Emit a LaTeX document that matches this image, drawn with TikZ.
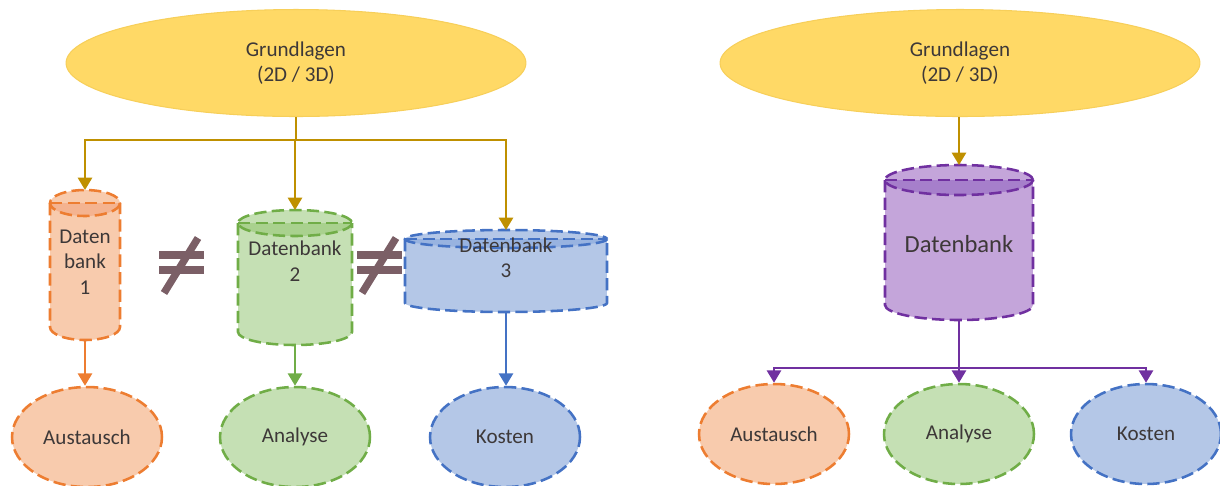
\documentclass[tikz,border=0pt]{standalone}
\usepackage{fontspec}
\setmainfont{Carlito}
\usetikzlibrary{arrows.meta,shapes.geometric}
\definecolor{txt}{HTML}{3D3838}
\definecolor{yfill}{HTML}{FFD966}
\definecolor{ydraw}{HTML}{F7CF5A}
\definecolor{gold}{HTML}{BF9000}
\definecolor{odraw}{HTML}{ED7D31}
\definecolor{ofill}{HTML}{F8CBAD}
\definecolor{ocap}{HTML}{F4B390}
\definecolor{gdraw}{HTML}{70AD47}
\definecolor{gfill}{HTML}{C5E0B4}
\definecolor{gcap}{HTML}{A9D18E}
\definecolor{bdraw}{HTML}{4472C4}
\definecolor{bfill}{HTML}{B4C7E7}
\definecolor{bcap}{HTML}{98B3E0}
\definecolor{pdraw}{HTML}{7030A0}
\definecolor{pfill}{HTML}{C4A5DA}
\definecolor{pcap}{HTML}{A67FCB}
\definecolor{neqc}{HTML}{7B5F66}
\newcommand{\dbcyl}[9]{%
  \fill[#7] (#1-#4,#2+#5) rectangle (#1+#4,#3-#5);
  \fill[#7] (#1,#3-#5) ellipse[x radius=#4,y radius=#5];
  \fill[#7] (#1,#2+#5) ellipse[x radius=#4,y radius=#5];
  \fill[#8] (#1-#4,#2+#5) arc[start angle=180,end angle=0,x radius=#4,y radius=#5] -- cycle;
  \draw[dashline,#6] (#1,#2+#5) ellipse[x radius=#4,y radius=#5];
  \draw[dashline,#6] (#1-#4,#2+#5) -- (#1+#4,#2+#5);
  \draw[dashline,#6] (#1-#4,#2+#5) -- (#1-#4,#3-#5) arc[start angle=180,end angle=0,x radius=#4,y radius=#5] -- (#1+#4,#2+#5);
  \coordinate (#9t) at (#1,#2);
  \coordinate (#9b) at (#1,#3);
}
\begin{document}
\begin{tikzpicture}[x=0.02cm,y=-0.02cm,
  every node/.style={font=\fontsize{12}{14.5}\selectfont, text=txt, align=center},
  dashline/.style={line width=1.45pt, dash pattern=on 7pt off 3pt},
  topell/.style={ellipse, fill=yfill, draw=ydraw, line width=0.6pt, minimum width=9.2cm, minimum height=2.14cm},
  botell/.style={ellipse, dashline, minimum width=3cm, minimum height=2cm},
  conn/.style={line width=1.35pt},
  arr/.style={conn, -{Triangle[length=7pt,width=8pt]}},
  cyltext/.style={inner sep=0pt},
  neqline/.style={draw=neqc, line width=4.2pt}
]
\useasboundingbox (0,0) rectangle (1220,485);

% ---------- left part ----------
\node[topell] (g1) at (296,63) {Grundlagen\\(2D / 3D)};
\dbcyl{85}{190}{340}{35}{13}{odraw}{ofill}{ocap}{db1}
\dbcyl{295}{210}{345}{57}{13}{gdraw}{gfill}{gcap}{db2}
\dbcyl{506}{230}{312}{101}{9}{bdraw}{bfill}{bcap}{db3}
\node[cyltext] (db1n) at (85,262) {Daten\\bank\\1};
\node[cyltext] (db2n) at (295,261) {Datenbank\\2};
\node[cyltext] (db3n) at (506,258) {Datenbank\\3};

\node[botell, draw=odraw, fill=ofill] (a1) at (87,437) {Austausch};
\node[botell, draw=gdraw, fill=gfill] (b1) at (295,437) {Analyse};
\node[botell, draw=bdraw, fill=bfill] (c1) at (505,437) {Kosten};

\coordinate (f1) at (296,140);
\draw[conn, gold] (g1.south) -- (f1);
\draw[arr, gold] (f1) -| (db1t);
\draw[arr, gold] (f1) -| (db2t);
\draw[arr, gold] (f1) -| (db3t);

\draw[arr, odraw] (db1b) -- (a1.north -| db1b);
\draw[arr, gdraw] (db2b) -- (b1.north -| db2b);
\draw[arr, bdraw] (db3b) -- (c1.north -| db3b);

% not-equal signs
\draw[neqline] (159,255) -- (204,255);
\draw[neqline] (159,270) -- (204,270);
\draw[neqline] (164,293) -- (198,238);
\draw[neqline] (357,255) -- (402,255);
\draw[neqline] (357,270) -- (402,270);
\draw[neqline] (362,293) -- (396,238);

% ---------- right part ----------
\node[topell, minimum width=9.6cm] (g2) at (960,63) {Grundlagen\\(2D / 3D)};
\dbcyl{959}{165}{320}{74}{15}{pdraw}{pfill}{pcap}{db4}
\node[cyltext, font=\fontsize{14}{17}\selectfont] (db4n) at (959,244) {Datenbank};

\node[botell, draw=odraw, fill=ofill] (a2) at (774,434) {Austausch};
\node[botell, draw=gdraw, fill=gfill] (b2) at (959,434) {Analyse};
\node[botell, draw=bdraw, fill=bfill] (c2) at (1146,434) {Kosten};

\draw[arr, gold] (g2.south -| db4t) -- (db4t);
\coordinate (f2) at (959,368);
\draw[conn, pdraw] (db4b) -- (f2);
\draw[arr, pdraw] (f2) -| (a2.north);
\draw[arr, pdraw] (f2) -- (b2.north);
\draw[arr, pdraw] (f2) -| (c2.north);
\end{tikzpicture}
\end{document}
